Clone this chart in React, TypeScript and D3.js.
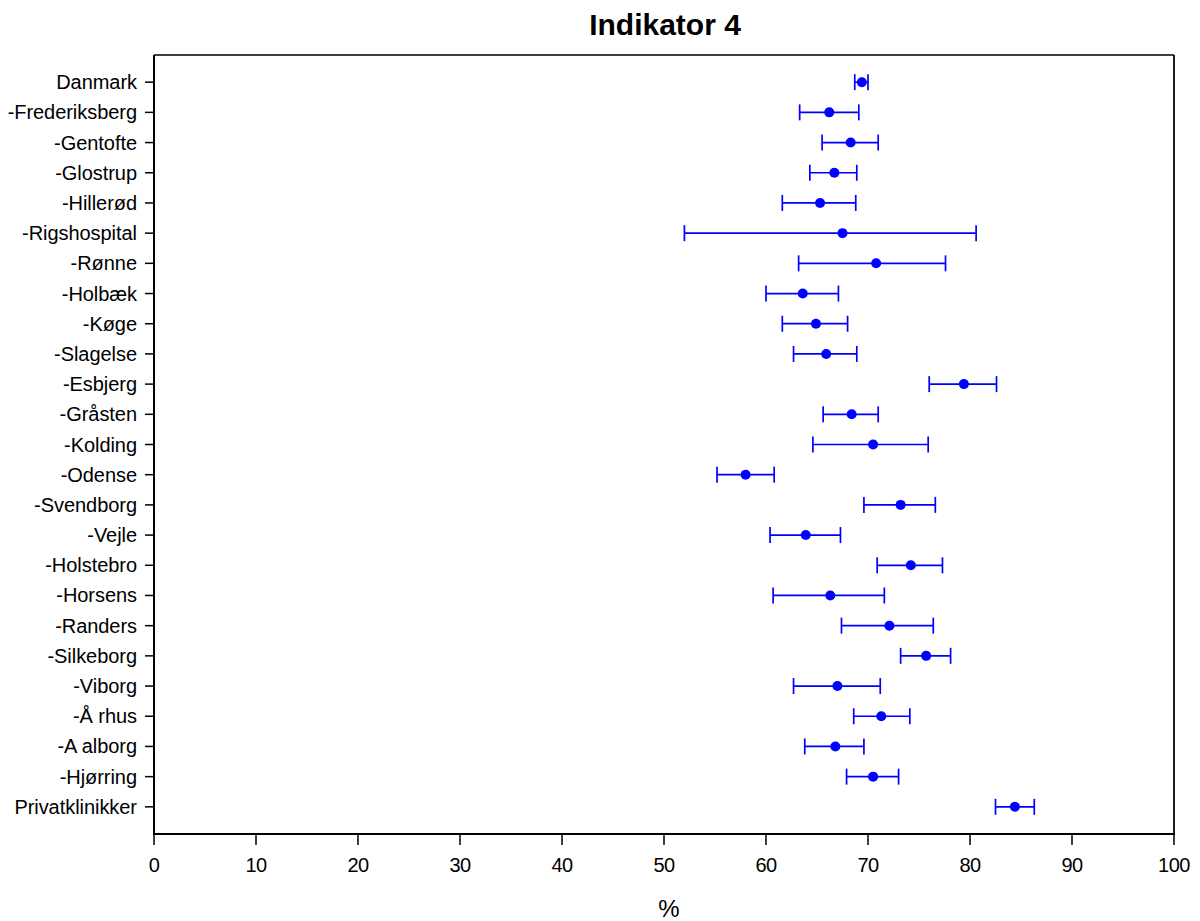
import React, { useEffect, useRef } from "react";
import * as d3 from "d3";

const categories = [
  "Danmark", "-Frederiksberg", "-Gentofte", "-Glostrup", "-Hillerød", "-Rigshospital",
  "-Rønne", "-Holbæk", "-Køge", "-Slagelse", "-Esbjerg", "-Gråsten", "-Kolding",
  "-Odense", "-Svendborg", "-Vejle", "-Holstebro", "-Horsens", "-Randers",
  "-Silkeborg", "-Viborg", "-Å rhus", "-A alborg", "-Hjørring", "Privatklinikker",
];
const estimates = [
  69.4, 66.2, 68.3, 66.7, 65.3, 67.5, 70.8, 63.6, 64.9, 65.9, 79.4, 68.4, 70.5,
  58.0, 73.2, 63.9, 74.2, 66.3, 72.1, 75.7, 67.0, 71.3, 66.8, 70.5, 84.4,
];
const lower = [
  68.7, 63.3, 65.5, 64.3, 61.6, 52.0, 63.2, 60.0, 61.6, 62.7, 76.0, 65.6, 64.6,
  55.2, 69.6, 60.4, 70.9, 60.7, 67.4, 73.2, 62.7, 68.6, 63.8, 67.9, 82.5,
];
const upper = [
  70.0, 69.1, 71.0, 68.9, 68.8, 80.6, 77.6, 67.1, 68.0, 68.9, 82.6, 71.0, 75.9,
  60.8, 76.6, 67.3, 77.3, 71.6, 76.4, 78.1, 71.2, 74.1, 69.6, 73.0, 86.3,
];
const xTicks = [0, 10, 20, 30, 40, 50, 60, 70, 80, 90, 100];
const title = "Indikator 4";
const xLabel = "%";

const W = 1200;
const H = 921;
const left = 154, right = 1174, top = 55, bottom = 834;
const FONT = "'Liberation Sans', Arial, Helvetica, sans-serif";
const BLUE = "#0000ff";

export default function App() {
  const ref = useRef<SVGSVGElement>(null);
  useEffect(() => {
    const svg = d3.select(ref.current);
    svg.selectAll("*").remove();
    const x = d3.scaleLinear().domain([0, 100]).range([left, right]);
    const y = d3.scalePoint<string>().domain(categories).range([top, bottom]).padding(0.9);

    // frame
    svg.append("line").attr("x1", left).attr("x2", right).attr("y1", top).attr("y2", top)
      .attr("stroke", "#000").attr("stroke-width", 1.5);
    svg.append("line").attr("x1", right).attr("x2", right).attr("y1", top).attr("y2", bottom)
      .attr("stroke", "#000").attr("stroke-width", 1.8);
    svg.append("line").attr("x1", left).attr("x2", left).attr("y1", top).attr("y2", bottom)
      .attr("stroke", "#000").attr("stroke-width", 2);
    svg.append("line").attr("x1", left - 1).attr("x2", right + 1).attr("y1", bottom).attr("y2", bottom)
      .attr("stroke", "#000").attr("stroke-width", 2);

    // x ticks
    const xg = svg.append("g");
    xTicks.forEach((t) => {
      xg.append("line").attr("x1", x(t)).attr("x2", x(t)).attr("y1", bottom).attr("y2", bottom + 11)
        .attr("stroke", "#000").attr("stroke-width", 1.5);
      xg.append("text").attr("x", x(t)).attr("y", 872).attr("text-anchor", "middle")
        .attr("font-family", FONT).attr("font-size", 20).attr("letter-spacing", -0.5)
        .attr("fill", "#000").text(String(t));
    });

    // y ticks & labels
    const yg = svg.append("g");
    categories.forEach((c) => {
      const yy = y(c)!;
      yg.append("line").attr("x1", left - 9).attr("x2", left).attr("y1", yy).attr("y2", yy)
        .attr("stroke", "#000").attr("stroke-width", 1.5);
      yg.append("text").attr("x", left - 17).attr("y", yy).attr("dy", "0.35em")
        .attr("text-anchor", "end").attr("font-family", FONT).attr("font-size", 20)
        .attr("letter-spacing", -0.05).attr("fill", "#000").text(c);
    });

    // error bars
    const g = svg.append("g");
    categories.forEach((c, i) => {
      const yy = y(c)!;
      g.append("line").attr("x1", x(lower[i])).attr("x2", x(upper[i])).attr("y1", yy).attr("y2", yy)
        .attr("stroke", BLUE).attr("stroke-width", 1.7);
      [lower[i], upper[i]].forEach((v) => {
        g.append("line").attr("x1", x(v)).attr("x2", x(v)).attr("y1", yy - 8).attr("y2", yy + 8)
          .attr("stroke", BLUE).attr("stroke-width", 1.7);
      });
      g.append("circle").attr("cx", x(estimates[i])).attr("cy", yy).attr("r", 5).attr("fill", BLUE);
    });

    svg.append("text").attr("x", (left + right) / 2 + 1).attr("y", 35).attr("text-anchor", "middle")
      .attr("font-family", FONT).attr("font-size", 30).attr("font-weight", "bold").attr("fill", "#000")
      .text(title);
    svg.append("text").attr("x", (left + right) / 2 + 5).attr("y", 917).attr("text-anchor", "middle")
      .attr("font-family", FONT).attr("font-size", 24).attr("fill", "#000").text(xLabel);
  }, []);
  return (
    <div style={{ position: "absolute", left: 0, top: 0 }}>
      <svg ref={ref} width={W} height={H} style={{ display: "block", background: "#fff" }} />
    </div>
  );
}
